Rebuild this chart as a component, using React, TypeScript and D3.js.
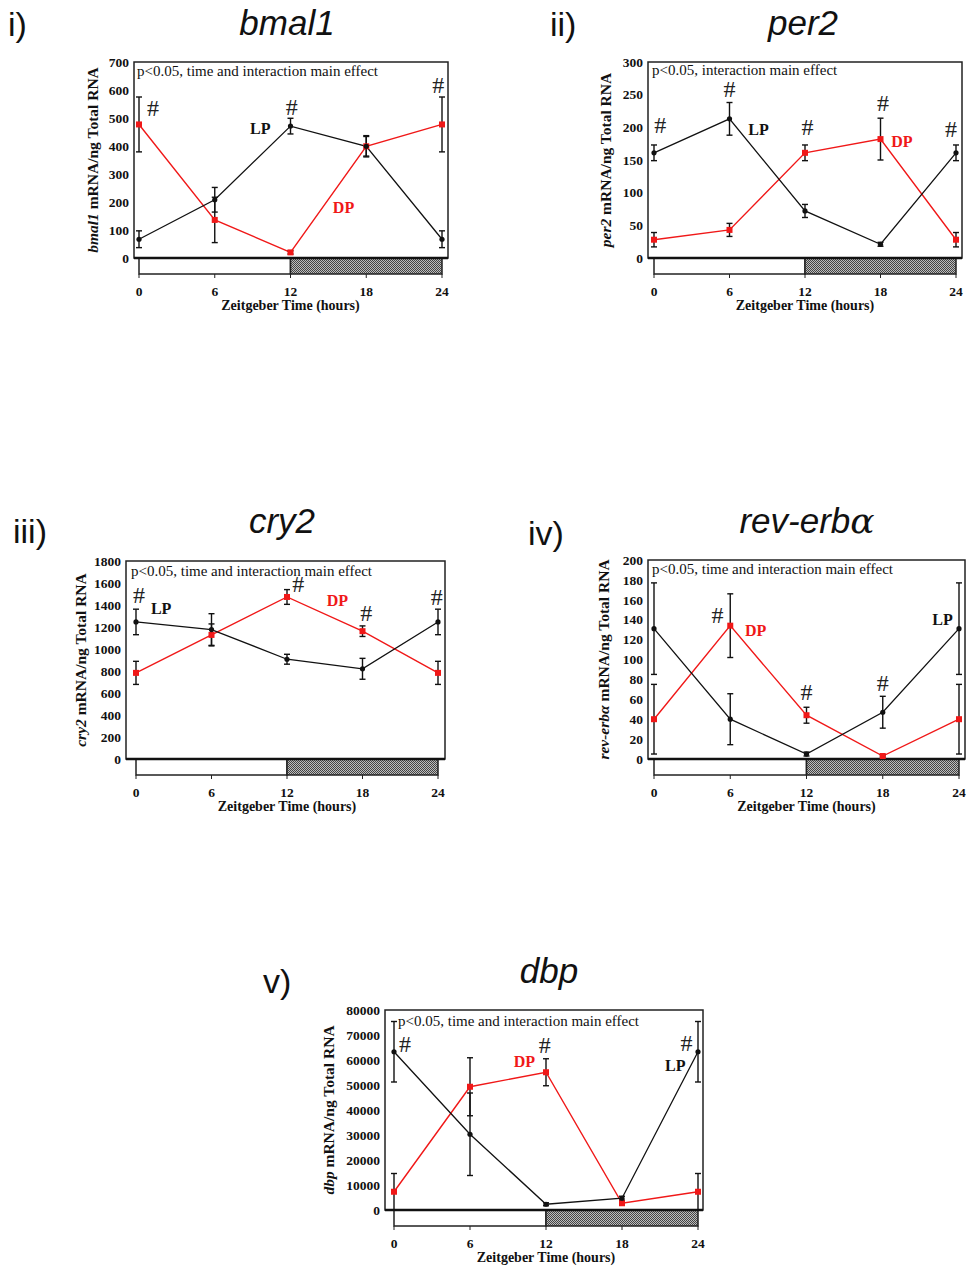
import React from 'react';
import * as d3 from 'd3';

// ---------- shared ----------
const times = [0, 6, 12, 18, 24];
const xTickValues = [0, 6, 12, 18, 24];

// ---------- i) bmal1 ----------
const bmal1YTicks = [0, 100, 200, 300, 400, 500, 600, 700];
const bmal1LP = [67, 208, 471, 399, 67];
const bmal1LPErr = [30, 44, 28, 38, 30];
const bmal1DP = [477, 136, 20, 399, 477];
const bmal1DPErr = [98, 81, 6, 35, 98];
const bmal1HashT = [1.1, 12.1, 23.7];
const bmal1HashV = [536, 539, 618];
const bmal1LabelLP = [9.6, 464];
const bmal1LabelDP = [16.2, 179];

// ---------- ii) per2 ----------
const per2YTicks = [0, 50, 100, 150, 200, 250, 300];
const per2LP = [161, 213, 72, 21, 161];
const per2LPErr = [12, 25, 10, 3, 12];
const per2DP = [28, 43, 161, 182, 28];
const per2DPErr = [11, 10, 12, 32, 11];
const per2HashT = [0.5, 6.0, 12.2, 18.2, 23.6];
const per2HashV = [204, 259, 200, 237, 197];
const per2LabelLP = [8.3, 197];
const per2LabelDP = [19.7, 179];

// ---------- iii) cry2 ----------
const cry2YTicks = [0, 200, 400, 600, 800, 1000, 1200, 1400, 1600, 1800];
const cry2LP = [1246, 1177, 907, 820, 1246];
const cry2LPErr = [116, 144, 45, 95, 116];
const cry2DP = [783, 1128, 1473, 1162, 783];
const cry2DPErr = [105, 100, 67, 48, 105];
const cry2HashT = [0.24, 12.9, 18.3, 23.9];
const cry2HashV = [1491, 1591, 1327, 1473];
const cry2LabelLP = [2.0, 1373];
const cry2LabelDP = [16.0, 1445];

// ---------- iv) rev-erbα ----------
const revYTicks = [0, 20, 40, 60, 80, 100, 120, 140, 160, 180, 200];
const revLP = [131, 40, 5, 47, 131];
const revLPErr = [46, 25.6, 2, 16, 46];
const revDP = [40, 134, 44, 3, 40];
const revDPErr = [35, 32, 8, 1, 35];
const revHashT = [5.0, 12.0, 18.0];
const revHashV = [145, 67, 76];
const revLabelLP = [22.7, 140];
const revLabelDP = [8.0, 129];

// ---------- v) dbp ----------
const dbpYTicks = [0, 10000, 20000, 30000, 40000, 50000, 60000, 70000, 80000];
const dbpLP = [63300, 30300, 2300, 4700, 63300];
const dbpLPErr = [12100, 16500, 600, 800, 12100];
const dbpDP = [7300, 49300, 55100, 2700, 7300];
const dbpDPErr = [7300, 11600, 5400, 500, 7300];
const dbpHashT = [0.87, 11.9, 23.1];
const dbpHashV = [66400, 66000, 66800];
const dbpLabelLP = [22.2, 58000];
const dbpLabelDP = [10.3, 59600];

const SERIF = '"Liberation Serif", "Times New Roman", serif';
const SANS = '"Liberation Sans", Arial, sans-serif';
const RED = '#f01818';
const BLACK = '#111';

type Layout = {
  L: number; R: number; T: number; B: number; x0: number; x24: number;
  yTitleDx: number; annDx: number; annDy: number;
  titleX: number; titleY: number; romanX: number; romanY: number;
};

type Spec = {
  roman: string; gene: string; greek?: string; annotation: string;
  yMax: number; yTicks: number[];
  lp: number[]; lpErr: number[]; dp: number[]; dpErr: number[];
  hashT: number[]; hashV: number[]; labelLP: number[]; labelDP: number[];
  layout: Layout;
};

const specs: Spec[] = [
  {
    roman: 'i)', gene: 'bmal1', annotation: 'p<0.05, time and interaction main effect',
    yMax: 700, yTicks: bmal1YTicks, lp: bmal1LP, lpErr: bmal1LPErr, dp: bmal1DP, dpErr: bmal1DPErr,
    hashT: bmal1HashT, hashV: bmal1HashV, labelLP: bmal1LabelLP, labelDP: bmal1LabelDP,
    layout: { L: 134, R: 448, T: 62, B: 258, x0: 139, x24: 442, yTitleDx: 41, annDx: 3, annDy: 14, titleX: 287, titleY: 35, romanX: 8, romanY: 36 },
  },
  {
    roman: 'ii)', gene: 'per2', annotation: 'p<0.05, interaction main effect',
    yMax: 300, yTicks: per2YTicks, lp: per2LP, lpErr: per2LPErr, dp: per2DP, dpErr: per2DPErr,
    hashT: per2HashT, hashV: per2HashV, labelLP: per2LabelLP, labelDP: per2LabelDP,
    layout: { L: 648, R: 962, T: 62, B: 258, x0: 654, x24: 956, yTitleDx: 42, annDx: 4, annDy: 13, titleX: 803, titleY: 35, romanX: 550, romanY: 36 },
  },
  {
    roman: 'iii)', gene: 'cry2', annotation: 'p<0.05, time and interaction main effect',
    yMax: 1800, yTicks: cry2YTicks, lp: cry2LP, lpErr: cry2LPErr, dp: cry2DP, dpErr: cry2DPErr,
    hashT: cry2HashT, hashV: cry2HashV, labelLP: cry2LabelLP, labelDP: cry2LabelDP,
    layout: { L: 126, R: 445, T: 561, B: 759, x0: 136, x24: 438, yTitleDx: 45, annDx: 5, annDy: 15, titleX: 282, titleY: 533, romanX: 13, romanY: 543 },
  },
  {
    roman: 'iv)', gene: 'rev-erb', greek: 'α', annotation: 'p<0.05, time and interaction main effect',
    yMax: 200, yTicks: revYTicks, lp: revLP, lpErr: revLPErr, dp: revDP, dpErr: revDPErr,
    hashT: revHashT, hashV: revHashV, labelLP: revLabelLP, labelDP: revLabelDP,
    layout: { L: 648, R: 965, T: 560, B: 759, x0: 654, x24: 959, yTitleDx: 44, annDx: 4, annDy: 14, titleX: 807, titleY: 533, romanX: 528, romanY: 545 },
  },
  {
    roman: 'v)', gene: 'dbp', annotation: 'p<0.05, time and interaction main effect',
    yMax: 80000, yTicks: dbpYTicks, lp: dbpLP, lpErr: dbpLPErr, dp: dbpDP, dpErr: dbpDPErr,
    hashT: dbpHashT, hashV: dbpHashV, labelLP: dbpLabelLP, labelDP: dbpLabelDP,
    layout: { L: 385, R: 703, T: 1010, B: 1210, x0: 394, x24: 698, yTitleDx: 56, annDx: 13, annDy: 16, titleX: 549, titleY: 983, romanX: 263, romanY: 993 },
  },
];

function Panel({ spec }: { spec: Spec }) {
  const { L, R, T, B, x0, x24 } = spec.layout;
  const lay = spec.layout;
  const x = d3.scaleLinear().domain([0, 24]).range([x0, x24]);
  const y = d3.scaleLinear().domain([0, spec.yMax]).range([B, T]);
  const line = d3.line<number>().x((_, i) => x(times[i])).y((d) => y(d));
  const barH = 16;
  const cap = 3;

  const errBars = (vals: number[], errs: number[], key: string) =>
    vals.map((v, i) => {
      const cx = x(times[i]);
      const y1 = y(v + errs[i]);
      const y2 = y(Math.max(0, v - errs[i]));
      return (
        <g key={key + i} stroke={BLACK} strokeWidth={1.4}>
          <line x1={cx} x2={cx} y1={y1} y2={y2} />
          <line x1={cx - cap} x2={cx + cap} y1={y1} y2={y1} />
          <line x1={cx - cap} x2={cx + cap} y1={y2} y2={y2} />
        </g>
      );
    });

  return (
    <g>
      {/* roman numeral and title */}
      <text x={lay.romanX} y={lay.romanY} fontFamily={SANS} fontSize={34} fill="#111">{spec.roman}</text>
      <text x={lay.titleX} y={lay.titleY} fontFamily={SANS} fontSize={35} fontStyle="italic" textAnchor="middle" fill="#111">
        {spec.gene}
        {spec.greek ? <tspan fontFamily='"DejaVu Serif", serif' fontSize={36}>{spec.greek}</tspan> : null}
      </text>

      {/* frame */}
      <rect x={L} y={T} width={R - L} height={B - T} fill="none" stroke="#222" strokeWidth={1.5} />
      {/* light / dark bar */}
      <rect x={x(0)} y={B} width={x(12) - x(0)} height={barH} fill="#fff" stroke="#222" strokeWidth={1.5} />
      <rect x={x(12)} y={B} width={x(24) - x(12)} height={barH} fill="url(#hatch)" stroke="#222" strokeWidth={1.5} />
      <line x1={L} x2={R} y1={B} y2={B} stroke="#111" strokeWidth={2.5} />

      {/* y ticks */}
      {spec.yTicks.map((t) => (
        <text key={'yt' + t} x={L - 5} y={y(t)} dy="0.35em" textAnchor="end" fontFamily={SERIF} fontWeight="bold" fontSize={13.5} fill="#111">{t}</text>
      ))}
      {/* x ticks */}
      {xTickValues.map((t) => (
        <g key={'xt' + t}>
          <line x1={x(t)} x2={x(t)} y1={B + barH} y2={B + barH + 4} stroke="#222" strokeWidth={1} />
          <text x={x(t)} y={B + 38} textAnchor="middle" fontFamily={SERIF} fontWeight="bold" fontSize={13.5} fill="#111">{t}</text>
        </g>
      ))}
      <text x={(x0 + x24) / 2} y={B + 52} textAnchor="middle" fontFamily={SERIF} fontWeight="bold" fontSize={14} fill="#111">Zeitgeber Time (hours)</text>
      <text transform={`translate(${L - lay.yTitleDx},${(T + B) / 2}) rotate(-90)`} textAnchor="middle" dy="0.35em" fontFamily={SERIF} fontWeight="bold" fontSize={15.5} fill="#111">
        <tspan fontStyle="italic">{spec.gene}{spec.greek || ''}</tspan> mRNA/ng Total RNA
      </text>

      {/* annotation */}
      <text x={L + lay.annDx} y={T + lay.annDy} fontFamily={SERIF} fontSize={15} fill="#111">{spec.annotation}</text>

      {/* lines */}
      <path d={line(spec.dp) || ''} fill="none" stroke={RED} strokeWidth={1.4} />
      <path d={line(spec.lp) || ''} fill="none" stroke={BLACK} strokeWidth={1.3} />
      {errBars(spec.lp, spec.lpErr, 'lpe')}
      {errBars(spec.dp, spec.dpErr, 'dpe')}
      {spec.dp.map((v, i) => (
        <rect key={'dpm' + i} x={x(times[i]) - 3} y={y(v) - 3} width={6} height={6} fill={RED} />
      ))}
      {spec.lp.map((v, i) => (
        <circle key={'lpm' + i} cx={x(times[i])} cy={y(v)} r={2.6} fill={BLACK} />
      ))}

      {/* significance marks */}
      {spec.hashT.map((t, i) => (
        <text key={'h' + i} x={x(t)} y={y(spec.hashV[i])} dy="0.33em" textAnchor="middle" fontFamily={SERIF} fontSize={24} fill="#222">#</text>
      ))}
      {/* series labels */}
      <text x={x(spec.labelLP[0])} y={y(spec.labelLP[1])} dy="0.35em" textAnchor="middle" fontFamily={SERIF} fontWeight="bold" fontSize={16} fill="#111">LP</text>
      <text x={x(spec.labelDP[0])} y={y(spec.labelDP[1])} dy="0.35em" textAnchor="middle" fontFamily={SERIF} fontWeight="bold" fontSize={16} fill={RED}>DP</text>
    </g>
  );
}

export default function App() {
  return (
    <svg width={968} height={1271} style={{ position: 'absolute', left: 0, top: 0, background: '#fff' }}>
      <defs>
        <pattern id="hatch" width={2} height={2} patternUnits="userSpaceOnUse">
          <rect width={2} height={2} fill="#bdbdbd" />
          <rect x={0} y={0} width={1} height={1} fill="#444" />
          <rect x={1} y={1} width={1} height={1} fill="#444" />
        </pattern>
      </defs>
      <rect width={968} height={1271} fill="#fff" />
      {specs.map((s) => (
        <Panel key={s.gene} spec={s} />
      ))}
    </svg>
  );
}
